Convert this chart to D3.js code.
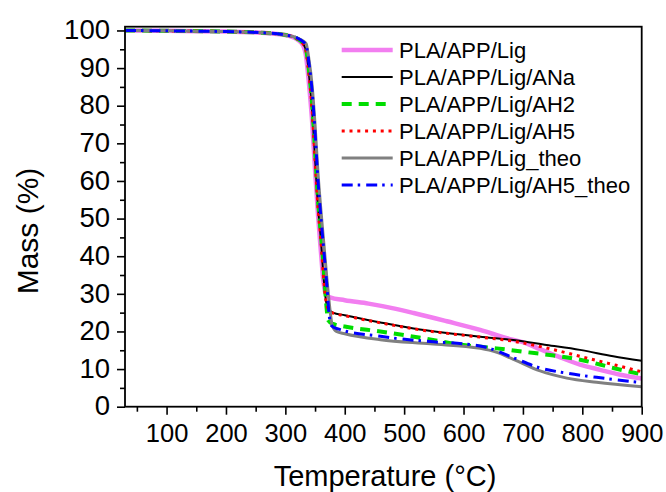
<!DOCTYPE html>
<html>
<head>
<meta charset="utf-8">
<script src="https://cdn.jsdelivr.net/npm/d3@7"></script>
<style>
  html, body { margin: 0; padding: 0; background: #fff; }
  svg { display: block; font-family: "Liberation Sans", Arial, sans-serif; }
</style>
</head>
<body>
<svg id="chart" width="666" height="492"></svg>
<script>
// ---- Data (temperature °C, mass %) ----
const seriesNames = ["PLA/APP/Lig", "PLA/APP/Lig/ANa", "PLA/APP/Lig/AH2", "PLA/APP/Lig/AH5", "PLA/APP/Lig_theo", "PLA/APP/Lig/AH5_theo"];

const ligData = [[30,100],[100,99.9],[200,99.7],[260,99.4],[300,98.8],[320,97.6],[330,96],[335,93],[340,85.5],[345,76],[350,63],[355,51],[360,41],[364,33.5],[368,30],[375,29.1],[400,28.3],[440,27.4],[480,26.2],[516,24.9],[572,22.7],[628,20.4],[673,18.2],[701,17.1],[729,15.3],[763,13.1],[796,11.2],[830,9.8],[864,8.5],[900,7.5]];
const anaData = [[30,100],[100,99.9],[200,99.7],[260,99.4],[300,98.8],[320,97.8],[330,96.4],[335,94.5],[340,88],[345,79],[350,66],[355,53],[360,44],[364,35],[368,28.5],[372,26],[380,25],[400,24.3],[460,22.4],[516,20.8],[572,19.6],[628,18.6],[684,17.7],[740,16.4],[796,15.1],[852,13.4],[900,12.2]];
const ah2Data = [[30,100],[100,99.9],[200,99.7],[260,99.4],[300,98.8],[320,97.8],[330,96.5],[335,94.8],[340,89],[345,80.5],[350,68],[355,55],[360,45.5],[365,36],[369,27],[372,23],[380,22],[400,21.3],[460,20],[532,18.2],[594,16.5],[656,15.5],[701,14.6],[752,13.6],[802,12.3],[852,10.3],[900,8.6]];
const ah5Data = [[30,100],[100,99.9],[200,99.7],[260,99.4],[300,98.8],[320,97.8],[330,96.4],[335,94.5],[340,88],[345,79],[350,66],[355,53],[360,44],[364,35],[368,28.5],[372,26],[380,24.9],[400,24.2],[460,22.3],[516,20.7],[572,19.5],[628,18.5],[684,17.4],[740,15.6],[796,13.4],[852,11.2],[900,9.3]];
const ligTheoData = [[30,100],[100,99.9],[200,99.7],[260,99.4],[300,98.8],[320,98],[330,97.2],[335,96.5],[340,92],[345,85.5],[350,75],[355,62],[360,52],[365,43],[370,34],[375,26],[379,21.5],[386,20],[400,19.4],[460,17.8],[544,16.7],[628,15.5],[655,14.5],[684,12.6],[729,9.5],[774,7.6],[824,6.5],[900,5.3]];
const ah5TheoData = [[30,100],[100,99.9],[200,99.7],[260,99.4],[300,98.8],[320,98],[330,97],[335,96],[340,91],[345,84],[350,73],[355,60],[360,50],[365,41],[370,32],[374,24],[378,21.5],[390,20.6],[460,18.7],[544,17.3],[600,16.7],[638,15.8],[684,13],[729,10.3],[774,8.9],[824,7.8],[900,6.4]];

const xTickValues = [100,200,300,400,500,600,700,800,900];
const xMinorTicks = [50,150,250,350,450,550,650,750,850];
const yTickValues = [0,10,20,30,40,50,60,70,80,90,100];
const yMinorTicks = [5,15,25,35,45,55,65,75,85,95];

// ---- Styles ----
const styles = [
  { data: ligData,     color: "#F27EF0", width: 4.5, dash: null },
  { data: anaData,     color: "#000000", width: 2,   dash: null },
  { data: ah2Data,     color: "#00DD00", width: 4,   dash: "10,7" },
  { data: ah5Data,     color: "#FF0000", width: 3,   dash: "3,4.8" },
  { data: ligTheoData, color: "#808080", width: 3,   dash: null },
  { data: ah5TheoData, color: "#0000FF", width: 3,   dash: "11,5,2.5,6" }
];

const mLeft = 125, mRight = 641.7, mTop = 26.7, mBottom = 406.7;
const svg = d3.select("#chart");
svg.append("rect").attr("width", 666).attr("height", 492).attr("fill", "#fff");

const x = d3.scaleLinear().domain([30, 900]).range([mLeft, mRight]);
const y = d3.scaleLinear().domain([0, 101]).range([mBottom, mTop]);

const line = d3.line().x(d => x(d[0])).y(d => y(d[1])).curve(d3.curveMonotoneX);

// Lines (clipped)
svg.append("clipPath").attr("id", "clip").append("rect")
  .attr("x", mLeft).attr("y", mTop).attr("width", mRight - mLeft).attr("height", mBottom - mTop);
const plot = svg.append("g").attr("clip-path", "url(#clip)");
styles.forEach(s => {
  plot.append("path").datum(s.data)
    .attr("d", line)
    .attr("fill", "none")
    .attr("stroke", s.color)
    .attr("stroke-width", s.width)
    .attr("stroke-dasharray", s.dash)
    .attr("stroke-linejoin", "round");
});

// Axes
const xAxis = svg.append("g").attr("transform", `translate(0,${mBottom})`)
  .call(d3.axisBottom(x).tickValues(xTickValues).tickSize(8).tickSizeOuter(0).tickPadding(9));
const xMinor = svg.append("g").attr("transform", `translate(0,${mBottom})`)
  .call(d3.axisBottom(x).tickValues(xMinorTicks).tickSize(5).tickSizeOuter(0).tickFormat(""));
const yAxis = svg.append("g").attr("transform", `translate(${mLeft},0)`)
  .call(d3.axisLeft(y).tickValues(yTickValues).tickSize(8).tickSizeOuter(0).tickPadding(7));
const yMinor = svg.append("g").attr("transform", `translate(${mLeft},0)`)
  .call(d3.axisLeft(y).tickValues(yMinorTicks).tickSize(5).tickSizeOuter(0).tickFormat(""));

[xAxis, xMinor, yAxis, yMinor].forEach(g => {
  g.select(".domain").remove();
  g.selectAll(".tick line").attr("stroke", "#000").attr("stroke-width", 1.6);
});
xAxis.selectAll(".tick text").attr("font-size", 25.5).attr("fill", "#000")
  .attr("font-family", "'Liberation Sans', Arial, sans-serif");
yAxis.selectAll(".tick text").attr("font-size", 27.5).attr("fill", "#000")
  .attr("font-family", "'Liberation Sans', Arial, sans-serif").attr("dy", "0.3em");

// Frame
svg.append("rect").attr("x", mLeft).attr("y", mTop)
  .attr("width", mRight - mLeft).attr("height", mBottom - mTop)
  .attr("fill", "none").attr("stroke", "#000").attr("stroke-width", 1.8);

// Axis titles
svg.append("text").attr("x", 385).attr("y", 486)
  .attr("text-anchor", "middle").attr("font-size", 29).attr("fill", "#000")
  .text("Temperature (°C)");
svg.append("text").attr("transform", "translate(38,231) rotate(-90)")
  .attr("text-anchor", "middle").attr("font-size", 30).attr("fill", "#000")
  .text("Mass (%)");

// Legend
const legend = svg.append("g");
styles.forEach((s, i) => {
  const cy = 50 + i * 27;
  legend.append("line").attr("x1", 341.7).attr("x2", 392.7).attr("y1", cy).attr("y2", cy)
    .attr("stroke", s.color).attr("stroke-width", s.width).attr("stroke-dasharray", s.dash);
  legend.append("text").attr("x", 399).attr("y", cy + 8)
    .attr("font-size", 22).attr("fill", "#000").text(seriesNames[i]);
});
</script>
</body>
</html>
